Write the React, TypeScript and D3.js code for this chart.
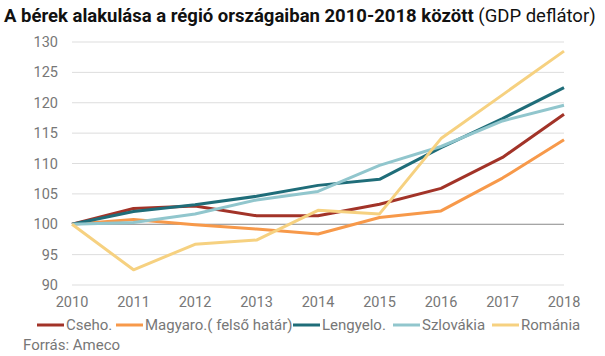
import React from "react";
import * as d3 from "d3";

const years = [2010, 2011, 2012, 2013, 2014, 2015, 2016, 2017, 2018];
const yTicks = [90, 95, 100, 105, 110, 115, 120, 125, 130];
const seriesNames = ["Cseho.", "Magyaro.( felső határ)", "Lengyelo.", "Szlovákia", "Románia"];
const cseho = [100, 102.6, 103.0, 101.4, 101.4, 103.3, 105.9, 111.0, 118.1];
const magyar = [100, 100.8, 99.9, 99.2, 98.4, 101.1, 102.2, 107.6, 113.9];
const lengyel = [100, 102.1, 103.2, 104.6, 106.4, 107.4, 112.6, 117.4, 122.5];
const szlovakia = [100, 100.3, 101.7, 104.0, 105.4, 109.7, 112.8, 117.0, 119.6];
const romania = [100, 92.5, 96.7, 97.4, 102.3, 101.7, 114.1, 121.3, 128.5];
const colors = ["#a23328", "#f7994a", "#1f6d79", "#91c6cd", "#f6d180"];
const seriesValues = [cseho, magyar, lengyel, szlovakia, romania];

export default function App() {
  const W = 605, H = 356;
  const x = d3.scaleLinear().domain([2010, 2018]).range([72, 564]);
  const y = d3.scaleLinear().domain([90, 130]).range([285, 42]);
  const line = d3.line<number>().x((_, i) => x(years[i])).y((d) => y(d));
  const font = "Roboto, 'Noto Sans', sans-serif";
  const legendX = [37, 116, 293, 393, 492];
  return (
    <svg width={W} height={H} style={{ position: "absolute", left: 0, top: 0 }} fontFamily={font}>
      <rect width={W} height={H} fill="#fff" />
      <text x={4} y={22} fontSize={18.5} fill="#111">
        <tspan fontWeight="bold">A bérek alakulása a régió országaiban 2010-2018 között</tspan>
        <tspan> (GDP deflátor)</tspan>
      </text>
      {yTicks.map((t) => (
        <g key={t}>
          <line x1={72} x2={564} y1={y(t)} y2={y(t)} stroke={t === 100 ? "#888" : "#ddd"} strokeWidth={1} />
          <text x={58} y={y(t)} dy="0.35em" textAnchor="end" fontSize={14.5} fill="#777">{t}</text>
        </g>
      ))}
      {years.map((yr) => (
        <text key={yr} x={x(yr)} y={302} dy="0.35em" textAnchor="middle" fontSize={14.5} fill="#777">{yr}</text>
      ))}
      {seriesValues.map((vals, i) => (
        <path key={i} d={line(vals) || ""} fill="none" stroke={colors[i]} strokeWidth={3} strokeLinejoin="round" />
      ))}
      {seriesNames.map((n, i) => (
        <g key={n}>
          <line x1={legendX[i]} x2={legendX[i] + 27} y1={325} y2={325} stroke={colors[i]} strokeWidth={3} />
          <text x={legendX[i] + 29} y={325} dy="0.35em" fontSize={15} fill="#777">{n}</text>
        </g>
      ))}
      <text x={23} y={345} dy="0.35em" fontSize={15} fill="#777">Forrás: Ameco</text>
    </svg>
  );
}
